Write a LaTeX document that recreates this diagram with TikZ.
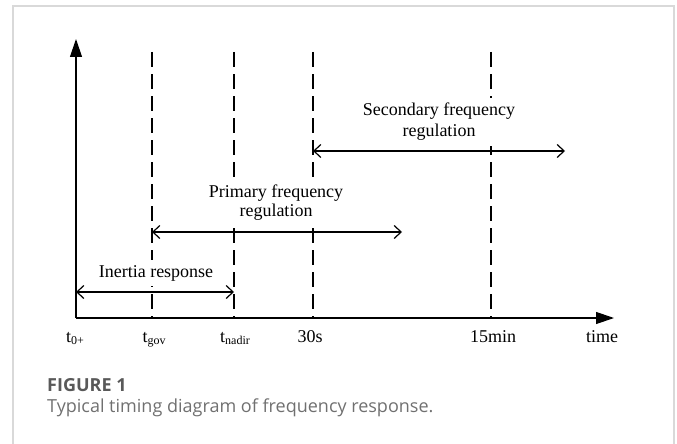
\documentclass[tikz,border=0pt]{standalone}
\usepackage{fontspec}
\setmainfont{Liberation Serif}
\newfontfamily\capfont{Open Sans}
\usetikzlibrary{arrows.meta}
\definecolor{framegray}{HTML}{D9D9D9}
\definecolor{figgray}{HTML}{595959}
\definecolor{capgray}{HTML}{707070}
\newcommand\tsub[1]{\raisebox{-2pt}{\fontsize{12}{12}\selectfont #1}}
\begin{document}
\begin{tikzpicture}[x=1pt,y=-1pt,
  lbl/.style={font=\fontsize{18}{21}\selectfont, inner sep=0pt, anchor=base},
  spanlbl/.style={fill=white, inner xsep=4pt, inner ysep=5pt, align=center},
  axisline/.style={line width=1.2pt, -{Triangle[length=18pt,width=12pt]}},
  guide/.style={line width=1.5pt, dash pattern=on 15pt off 7pt},
  span/.style={line width=1.2pt, {Straight Barb[length=7pt,width=13pt]}-{Straight Barb[length=7pt,width=13pt]}},
  captext/.style={inner sep=0pt, anchor=base west}]
\useasboundingbox (0,0) rectangle (677,444);
\draw[framegray, line width=1.5pt] (13,444) -- (13,6) -- (674,6) -- (674,444);
% axes
\coordinate (O) at (76,318);
\coordinate (ytop) at (76,39);
\coordinate (xend) at (614,318);
\draw[axisline] (O) -- (ytop);
\draw[axisline] (O) -- (xend);
% dashed guides
\foreach \n/\x in {gov/152, nadir/234, s30/313, m15/491}{
  \coordinate (\n t) at (\x,52);
  \coordinate (\n b) at (\x,318);
  \draw[guide] (\n t) -- (\n b);
}
% spans
\coordinate (in1) at (76,292);
\coordinate (in2) at (234,292);
\coordinate (pr1) at (152,232);
\coordinate (pr2) at (402,232);
\coordinate (se1) at (313,151);
\coordinate (se2) at (565,151);
\draw[span] (in1) -- (in2);
\draw[span] (pr1) -- (pr2);
\draw[span] (se1) -- (se2);
% span labels
\node[spanlbl, anchor=base, font=\fontsize{18}{21}\selectfont] (inlab) at (156,277) {Inertia response};
\node[spanlbl, anchor=south, font=\fontsize{18}{19}\selectfont] (prlab) at (276,226) {Primary frequency\\regulation};
\node[spanlbl, anchor=south, font=\fontsize{18}{21}\selectfont] (selab) at (439,146) {Secondary frequency\\regulation};
% tick labels
\node[lbl] (t0) at (75,342) {t\tsub{0+}};
\node[lbl] (tg) at (154,342) {t\tsub{gov}};
\node[lbl] (tn) at (235,342) {t\tsub{nadir}};
\node[lbl] (l30) at (310,342) {30s};
\node[lbl] (l15) at (493,342) {15min};
\node[lbl] (ltime) at (602,342) {time};
% caption
\node[captext, font=\capfont\bfseries\fontsize{18}{21}\selectfont, text=figgray] (fig) at (47,391) {FIGURE 1};
\node[captext, font=\capfont\fontsize{18}{21}\selectfont, text=capgray] (capt) at (47,412) {Typical timing diagram of frequency response.};
\end{tikzpicture}
\end{document}
